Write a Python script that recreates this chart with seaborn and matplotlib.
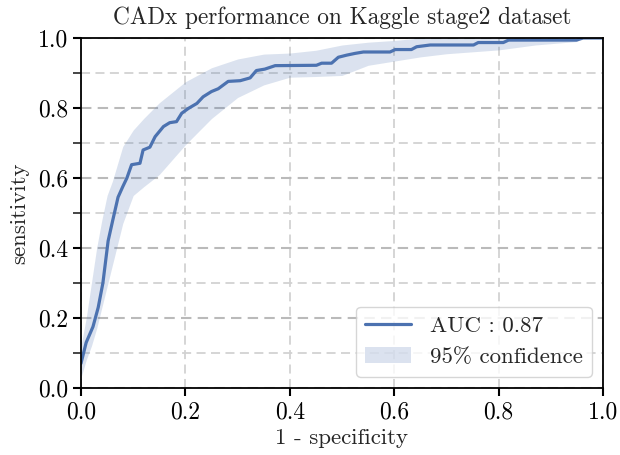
import numpy as np
import pandas as pd
import matplotlib
matplotlib.use('Agg')
import matplotlib.pyplot as plt
import seaborn as sns
from matplotlib.ticker import MultipleLocator

# ROC curve
fpr = [0.0, 0.01, 0.023, 0.033, 0.042, 0.052, 0.061, 0.071, 0.08, 0.088,
       0.097, 0.113, 0.119, 0.132, 0.142, 0.158, 0.17, 0.183, 0.193, 0.206,
       0.222, 0.234, 0.25, 0.263, 0.282, 0.305, 0.324, 0.336, 0.352, 0.372,
       0.451, 0.461, 0.48, 0.493, 0.509, 0.525, 0.541, 0.592, 0.602, 0.633,
       0.643, 0.669, 0.752, 0.761, 0.809, 0.819, 0.949, 0.962, 1.0]
tpr = [0.07, 0.13, 0.175, 0.23, 0.30, 0.42, 0.48, 0.545, 0.575, 0.60,
       0.638, 0.642, 0.68, 0.688, 0.718, 0.747, 0.758, 0.761, 0.785, 0.799,
       0.813, 0.832, 0.847, 0.855, 0.876, 0.878, 0.886, 0.907, 0.911, 0.921,
       0.922, 0.928, 0.928, 0.945, 0.951, 0.956, 0.96, 0.96, 0.967, 0.967,
       0.975, 0.98, 0.98, 0.987, 0.987, 0.994, 0.994, 1.0, 1.0]

# 95% confidence band
band_x = [0.0, 0.01, 0.02, 0.03, 0.04, 0.05, 0.06, 0.08, 0.10, 0.12, 0.15,
          0.2, 0.25, 0.3, 0.35, 0.4, 0.45, 0.5, 0.55, 0.6, 0.65, 0.7, 0.8,
          0.87, 0.95, 0.96, 1.0]
band_hi = [0.12, 0.20, 0.30, 0.40, 0.48, 0.55, 0.59, 0.69, 0.737, 0.77, 0.815,
           0.875, 0.915, 0.94, 0.954, 0.957, 0.965, 0.98, 0.988, 0.993, 1.0,
           1.0, 1.0, 1.0, 1.0, 1.0, 1.0]
band_lo = [0.03, 0.08, 0.12, 0.17, 0.23, 0.29, 0.35, 0.47, 0.55, 0.575, 0.61,
           0.695, 0.77, 0.83, 0.866, 0.888, 0.89, 0.893, 0.922, 0.934, 0.946,
           0.955, 0.966, 0.98, 0.99, 1.0, 1.0]

auc = 0.87

sns.set_style('ticks')
plt.rcParams['font.family'] = ['cmr10', 'DejaVu Serif']
plt.rcParams['mathtext.fontset'] = 'cm'
plt.rcParams['axes.unicode_minus'] = False
plt.rcParams['axes.formatter.use_mathtext'] = True

blue = sns.color_palette('deep')[0]
df = pd.DataFrame({'fpr': fpr, 'tpr': tpr})

fig, ax = plt.subplots(figsize=(6.2, 4.55), dpi=100)
fig.subplots_adjust(left=0.1306, right=0.9726, bottom=0.1473, top=0.9165)

ax.fill_between(band_x, band_lo, band_hi, color=blue, alpha=0.2, lw=0,
                label='95% confidence')
sns.lineplot(data=df, x='fpr', y='tpr', sort=False, color=blue, lw=2.3,
             ax=ax, label='AUC : %.2f' % auc)

ax.set_xlim(0, 1)
ax.set_ylim(0, 1)
ax.xaxis.set_major_locator(MultipleLocator(0.2))
ax.yaxis.set_major_locator(MultipleLocator(0.2))
ax.yaxis.set_minor_locator(MultipleLocator(0.1))
ax.xaxis.set_major_formatter(plt.FormatStrFormatter('%.1f'))
ax.yaxis.set_major_formatter(plt.FormatStrFormatter('%.1f'))

ax.grid(axis='x', which='major', color='#d2d2d2', lw=1.3, dashes=(5, 3))
ax.grid(axis='y', which='major', color='#bababa', lw=1.5, dashes=(5, 3))
ax.grid(axis='y', which='minor', color='#d2d2d2', lw=1.3, dashes=(5, 3))
ax.set_axisbelow(True)

for sp in ax.spines.values():
    sp.set_linewidth(1.3)
    sp.set_color('black')
ax.tick_params(which='major', length=6, width=1.5, labelsize=17, colors='black')
ax.tick_params(which='minor', length=5.5, width=1.2)

ax.set_xlabel('1 - specificity', fontsize=16.5, labelpad=4)
ax.set_ylabel('sensitivity', fontsize=16.5, labelpad=6)
ax.set_title('CADx performance on Kaggle stage2 dataset', fontsize=16.8, pad=10)

handles, labels = ax.get_legend_handles_labels()
order = [labels.index('AUC : %.2f' % auc), labels.index('95% confidence')]
ax.legend([handles[i] for i in order], [labels[i] for i in order],
          loc='lower right', fontsize=16.5, frameon=True, fancybox=True,
          framealpha=0.8, handlelength=2.0)

fig.savefig('out.png', dpi=100)
